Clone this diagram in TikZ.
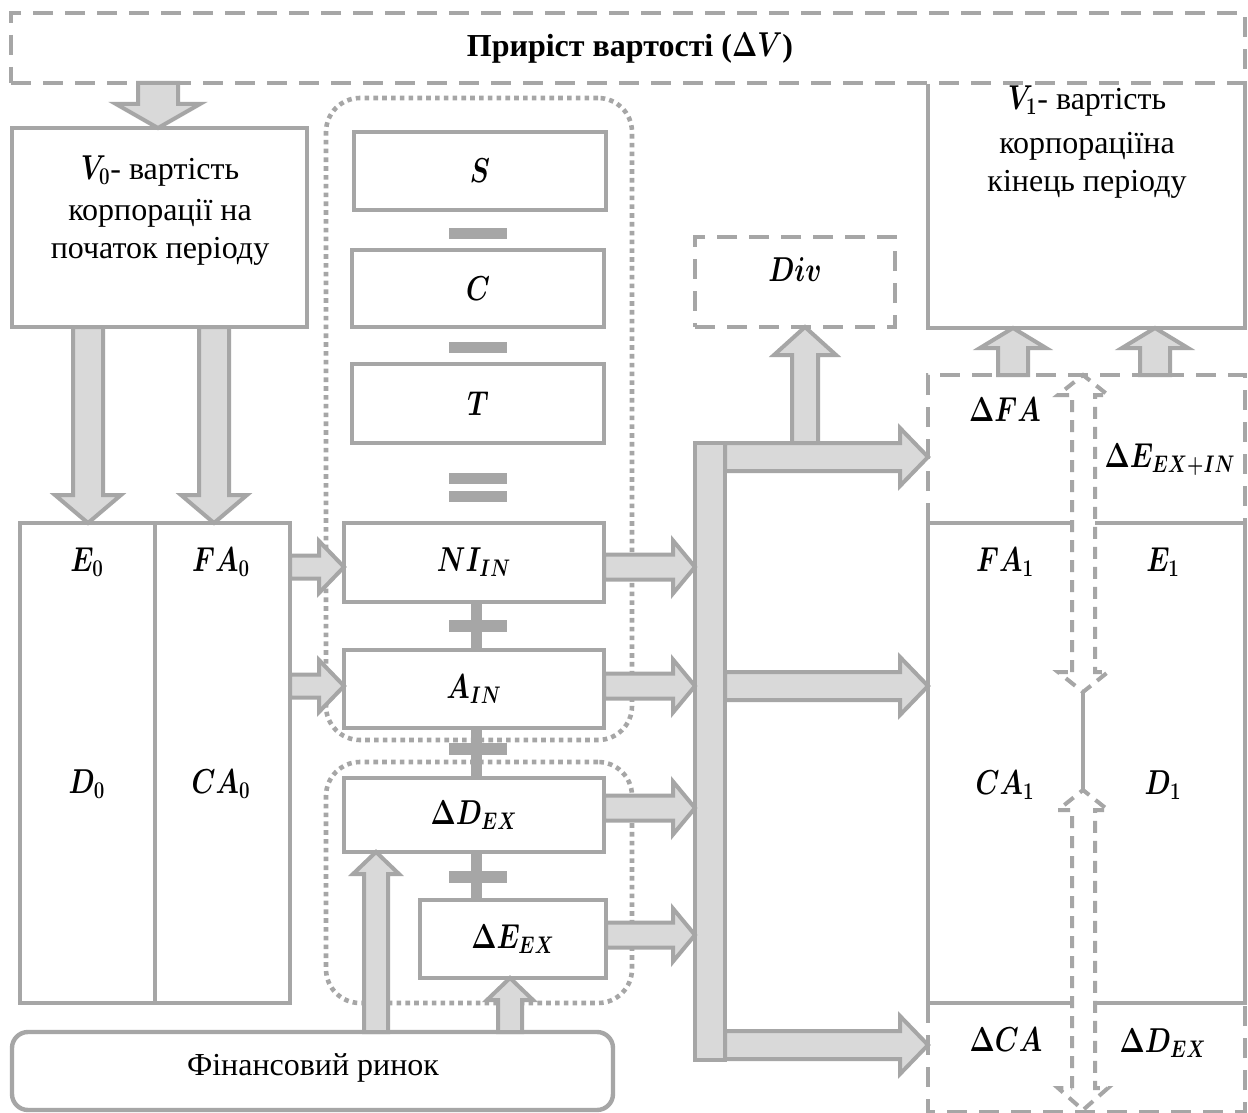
\documentclass[tikz,border=0pt]{standalone}
\usepackage{fontspec}
\setmainfont{Liberation Serif}
\usepackage{graphicx}
\usepackage{bm}
\usetikzlibrary{calc}
\definecolor{gline}{HTML}{A6A6A6}
\definecolor{gfill}{HTML}{D9D9D9}
% box by corners (px): name, x1, y1, x2, y2, text
\newcommand\mkbox[7][]{\node[#1,minimum width={(#5-#3)*0.5pt},minimum height={(#6-#4)*0.5pt}] (#2) at ({(#3+#5)/2},{(#4+#6)/2}) {#7};}
% horizontal block arrow: start, end, shaft half, head half, head length
\newcommand\harr[5]{\draw[blk] let \p1=#1, \p2=#2, \n1={sign(\x2-\x1)} in
  (\x1,{\y1+#3}) -- ({\x2-\n1*#5},{\y1+#3}) -- ({\x2-\n1*#5},{\y1+#4}) -- (\x2,\y1)
  -- ({\x2-\n1*#5},{\y1-#4}) -- ({\x2-\n1*#5},{\y1-#3}) -- (\x1,{\y1-#3}) -- cycle;}
% vertical block arrow
\newcommand\varr[5]{\draw[blk] let \p1=#1, \p2=#2, \n1={sign(\y2-\y1)} in
  ({\x1-#3},\y1) -- ({\x1-#3},{\y2-\n1*#5}) -- ({\x1-#4},{\y2-\n1*#5}) -- (\x1,\y2)
  -- ({\x1+#4},{\y2-\n1*#5}) -- ({\x1+#3},{\y2-\n1*#5}) -- ({\x1+#3},\y1) -- cycle;}
% math label: bold italic, condensed
\newcommand\mm[1]{\scalebox{0.78}[1]{\fontsize{18}{20}\selectfont$\bm{#1}$}}
\begin{document}
\begin{tikzpicture}[x=0.5pt,y=-0.5pt,
  box/.style={draw=gline,line width=2.2pt,fill=white,inner sep=0pt,outer sep=0pt},
  dbox/.style={draw=gline,line width=2.2pt,dash pattern=on 10pt off 6pt,inner sep=0pt,outer sep=0pt},
  dl/.style={draw=gline,line width=2.2pt,dash pattern=on 10pt off 6pt},
  sl/.style={draw=gline,line width=2.2pt},
  hl/.style={draw=gline,line width=2pt,dash pattern=on 6pt off 4pt},
  dotbox/.style={draw=gline,line width=2.3pt,dash pattern=on 2.3pt off 2.1pt,rounded corners=17pt,inner sep=0pt,outer sep=0pt},
  blk/.style={draw=gline,fill=gfill,line width=2pt,line join=miter},
  opbar/.style={fill=gline},
  mth/.style={inner sep=0pt},
  txt/.style={font=\fontsize{16}{19}\selectfont,align=center,inner sep=0pt}
]
\fill[white] (0,0) rectangle (1248,1113);
\useasboundingbox (0,0) rectangle (1248,1113);

% ---- title dashed box
\mkbox[dbox]{nTitle}{11}{13}{1245}{83}{}
\node[font=\fontsize{16}{19}\selectfont\bfseries,inner sep=0pt] (tTitle) at (630,48) {Приріст вартості (\mm{\Delta V})};

% ---- dotted groups
\mkbox[dotbox]{gA}{326}{98}{632}{740}{}
\mkbox[dotbox]{gB}{326}{762}{632}{1003}{}

% ---- V0 box
\mkbox[box]{nV0}{12}{128}{307}{327}{}
\node[txt,anchor=north] (tV0) at (160,155) {\mm{V_0}- вартість\\[1.5pt]корпорації на\\початок періоду};

% ---- balance at start
\mkbox[box]{colA}{20}{523}{155}{1003}{}
\mkbox[box]{colB}{155}{523}{290}{1003}{}
\node[mth] (lE0) at (87,562) {\mm{E_0}};
\node[mth] (lFA0) at (221,562) {\mm{FA_0}};
\node[mth] (lD0) at (87,784) {\mm{D_0}};
\node[mth] (lCA0) at (221,784) {\mm{CA_0}};

% ---- middle chain
\mkbox[box]{nS}{354}{132}{606}{210}{\mm{S}}
\mkbox[box]{nC}{352}{250}{604}{327}{\mm{C}}
\mkbox[box]{nT}{352}{364}{604}{443}{\mm{T}}
\mkbox[box]{nNI}{344}{523}{604}{602}{\mm{NI_{IN}}}
\mkbox[box]{nA}{344}{650}{604}{728}{\mm{A_{IN}}}
\mkbox[box]{nDD}{344}{778}{604}{852}{\mm{\Delta D_{EX}}}
\mkbox[box]{nDE}{420}{900}{606}{978}{\mm{\Delta E_{EX}}}

% operators
\fill[opbar] (449,228) rectangle (507,239);
\fill[opbar] (449,342) rectangle (507,353);
\fill[opbar] (449,473) rectangle (507,484);
\fill[opbar] (449,491) rectangle (507,502);
\fill[opbar] (471,602) rectangle (482,650);
\fill[opbar] (449,620) rectangle (507,632);
\fill[opbar] (471,728) rectangle (482,778);
\fill[opbar] (449,743) rectangle (507,755);
\fill[opbar] (471,852) rectangle (482,900);
\fill[opbar] (449,871) rectangle (507,883);

% ---- financial market
\mkbox[box,rounded corners=8pt]{nFin}{12}{1032}{613}{1110}{}
\node[txt] (tFin) at (313,1068) {Фінансовий ринок};

% ---- Div
\mkbox[dbox]{nDiv}{695}{237}{895}{327}{}
\node[mth] (lDiv) at (795,270) {\mm{Div}};

% ---- collector bar
\mkbox[box,fill=gfill]{nBar}{695}{443}{725}{1060}{}

% ---- V1 box (top edge is the title's dashed line)
\coordinate (v1a) at (928,84);
\coordinate (v1b) at (928,328);
\coordinate (v1c) at (1245,328);
\coordinate (v1d) at (1245,84);
\draw[sl] (v1a) -- (v1b) -- (v1c) -- (v1d);
\node[txt,anchor=north,font=\fontsize{16}{19}\selectfont] (tV1) at (1087,85) {\mm{V_1}- вартість\\[3pt]корпораціїна\\кінець періоду};

% ---- right balance
\coordinate (rA1) at (1072,523); \coordinate (rA2) at (928,523);
\coordinate (rA3) at (928,1003); \coordinate (rA4) at (1072,1003);
\coordinate (rB1) at (1095,523); \coordinate (rB2) at (1245,523);
\coordinate (rB3) at (1245,1003); \coordinate (rB4) at (1095,1003);
\draw[sl] (rA1) -- (rA2) -- (rA3) -- (rA4);
\draw[sl] (rB1) -- (rB2) -- (rB3) -- (rB4);
\coordinate (dT1) at (928,375); \coordinate (dT2) at (1245,375);
\coordinate (dB1) at (928,1112); \coordinate (dB2) at (1245,1112);
\draw[dl] (rA2) -- (dT1) -- (dT2) -- (rB2);
\draw[dl] (rA3) -- (dB1) -- (dB2) -- (rB3);

% hollow dashed double arrows
\draw[hl] (1072,672) -- (1072,395) -- (1058,395) -- (1083,375) -- (1108,395) -- (1095,395) -- (1095,672) -- (1108,672) -- (1083,692) -- (1058,672) -- cycle;
\draw[hl] (1072,1088) -- (1072,810) -- (1058,810) -- (1083,790) -- (1108,810) -- (1095,810) -- (1095,1088) -- (1108,1088) -- (1083,1110) -- (1058,1088) -- cycle;
\coordinate (tipA) at (1083,692); \coordinate (tipB) at (1083,790);
\draw[sl,line width=2pt] (tipA) -- (tipB);

\node[mth] (lDFA) at (1005,410) {\mm{\Delta FA}};
\node[mth] (lDEI) at (1170,460) {\mm{\Delta E_{EX+IN}}};
\node[mth] (lFA1) at (1005,562) {\mm{FA_1}};
\node[mth] (lE1) at (1163,562) {\mm{E_1}};
\node[mth] (lCA1) at (1005,785) {\mm{CA_1}};
\node[mth] (lD1) at (1163,785) {\mm{D_1}};
\node[mth] (lDCA) at (1006,1040) {\mm{\Delta CA}};
\node[mth] (lDDX) at (1163,1043) {\mm{\Delta D_{EX}}};

% ---- block arrows
\coordinate (a0) at (158,83);
\varr{(a0)}{(a0 |- nV0.north)}{10pt}{21pt}{12pt}
\coordinate (a1) at (88,327); \coordinate (a2) at (214,327);
\varr{(a1)}{(a1 |- colA.north)}{7.5pt}{16.5pt}{14pt}
\varr{(a2)}{(a2 |- colB.north)}{7.5pt}{16.5pt}{14pt}
\coordinate (b1) at (290,567); \coordinate (b2) at (290,686);
\harr{(b1)}{(b1 -| nNI.west)}{5.75pt}{13pt}{12.5pt}
\harr{(b2)}{(b2 -| nA.west)}{5.75pt}{13pt}{12.5pt}
\coordinate (m1) at (604,567); \coordinate (m2) at (604,686);
\coordinate (m3) at (604,808); \coordinate (m4) at (606,935);
\harr{(m1)}{(m1 -| nBar.west)}{6.25pt}{13.25pt}{11pt}
\harr{(m2)}{(m2 -| nBar.west)}{6.25pt}{13.25pt}{11pt}
\harr{(m3)}{(m3 -| nBar.west)}{6.25pt}{13.25pt}{11pt}
\harr{(m4)}{(m4 -| nBar.west)}{6.25pt}{13.25pt}{11pt}
\coordinate (r1) at (725,457); \coordinate (r2) at (725,686); \coordinate (r3) at (725,1045);
\coordinate (dv0) at (805,447);
\varr{(dv0)}{(dv0 |- nDiv.south)}{6.5pt}{15.5pt}{14pt}
\harr{(r1)}{(r1 -| dT1)}{7pt}{14.5pt}{14pt}
\harr{(r2)}{(r2 -| dT1)}{7pt}{14.5pt}{14pt}
\harr{(r3)}{(r3 -| dT1)}{7pt}{14.5pt}{14pt}
\coordinate (u1) at (1013,375); \coordinate (u2) at (1155,375);
\varr{(u1)}{(u1 |- v1b)}{7.5pt}{16.5pt}{10pt}
\varr{(u2)}{(u2 |- v1b)}{7.5pt}{16.5pt}{10pt}
\coordinate (f1) at (376,1032); \coordinate (f2) at (510,1032);
\varr{(f1)}{(f1 |- nDD.south)}{6pt}{11.5pt}{11pt}
\varr{(f2)}{(f2 |- nDE.south)}{6pt}{11.5pt}{11pt}
\end{tikzpicture}
\end{document}
